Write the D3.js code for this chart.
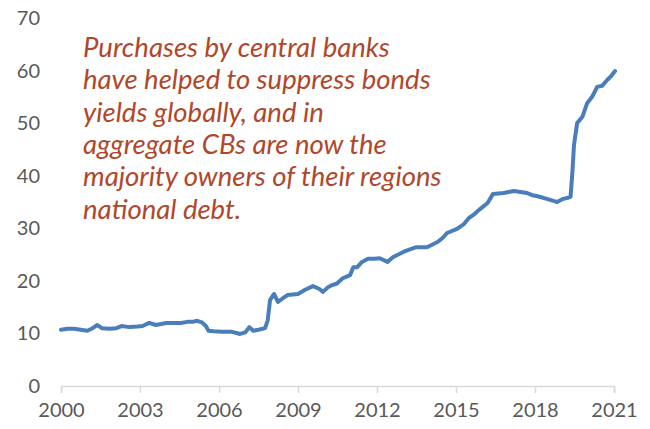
<!DOCTYPE html>
<html>
<head>
<meta charset="utf-8">
<script src="https://cdn.jsdelivr.net/npm/d3@7"></script>
<style>
  body { margin: 0; background: #fff; }
  svg { display: block; }
</style>
</head>
<body>
<svg id="chart" width="650" height="429"></svg>
<script>
// share of national debt held by central banks (%)
const dates = [
	2000.00, 2000.25, 2000.50, 2000.75, 2001.00, 2001.20, 2001.37, 2001.55, 2001.85, 2002.10,
	2002.30, 2002.60, 2002.90, 2003.10, 2003.35, 2003.60, 2003.80, 2004.00, 2004.30, 2004.55,
	2004.80, 2005.00, 2005.17, 2005.35, 2005.50, 2005.60, 2005.80, 2006.10, 2006.50, 2006.80,
	2007.00, 2007.15, 2007.30, 2007.50, 2007.75, 2007.85, 2007.94, 2008.09, 2008.24, 2008.40,
	2008.60, 2009.00, 2009.27, 2009.57, 2009.80, 2009.95, 2010.14, 2010.30, 2010.48, 2010.70,
	2010.98, 2011.10, 2011.25, 2011.43, 2011.66, 2011.90, 2012.10, 2012.40, 2012.60, 2013.00,
	2013.25, 2013.50, 2013.90, 2014.30, 2014.50, 2014.66, 2015.04, 2015.30, 2015.50, 2015.65,
	2015.90, 2016.20, 2016.40, 2016.80, 2017.00, 2017.20, 2017.45, 2017.70, 2017.90, 2018.10,
	2018.45, 2018.70, 2018.84, 2019.07, 2019.26, 2019.35, 2019.42, 2019.48, 2019.60, 2019.80,
	2019.98, 2020.17, 2020.36, 2020.55, 2020.74, 2020.90, 2021.04
];
const values = [
	10.7, 10.9, 10.9, 10.7, 10.5, 11.0, 11.6, 11.0, 10.9, 11.0,
	11.4, 11.2, 11.3, 11.4, 12.0, 11.6, 11.8, 12.0, 12.0, 12.0,
	12.2, 12.2, 12.4, 12.1, 11.4, 10.5, 10.4, 10.3, 10.3, 9.9,
	10.2, 11.2, 10.5, 10.7, 11.0, 12.5, 16.4, 17.5, 16.0, 16.6,
	17.3, 17.5, 18.3, 19.0, 18.5, 17.9, 18.8, 19.2, 19.5, 20.5,
	21.1, 22.6, 22.6, 23.6, 24.2, 24.2, 24.3, 23.6, 24.5, 25.5,
	26.0, 26.4, 26.4, 27.4, 28.2, 29.1, 29.9, 30.8, 32.0, 32.5,
	33.6, 34.8, 36.5, 36.7, 36.9, 37.1, 36.9, 36.7, 36.3, 36.1,
	35.6, 35.2, 35.0, 35.6, 35.8, 36.0, 40.7, 45.8, 50.0, 51.2,
	53.8, 55.0, 56.9, 57.1, 58.2, 59.0, 59.9
];
const xTicks = [2000, 2003, 2006, 2009, 2012, 2015, 2018, 2021];
const yTicks = [0, 10, 20, 30, 40, 50, 60, 70];
const note = [
	'Purchases by central banks',
	'have helped to suppress bonds',
	'yields globally, and in',
	'aggregate CBs are now the',
	'majority owners of their regions',
	'national debt.'
];

const svg = d3.select('#chart');
const font = 'Lato, "Open Sans", sans-serif';

const x = d3.scaleLinear().domain([2000, 2021]).range([61, 614]);
const y = d3.scaleLinear().domain([0, 70]).range([386, 18]);

// y labels, no axis line
svg.append('g').selectAll('text').data(yTicks).join('text')
	.attr('x', 40).attr('y', (d) => y(d) + 7)
	.attr('text-anchor', 'end')
	.style('font-family', font).style('font-size', '20px').style('fill', '#595959')
	.text((d) => d);

// x axis
let xAxis = svg.append('g').attr('transform', 'translate(0,' + y(0) + ')')
	.call(d3.axisBottom(x).tickValues(xTicks).tickFormat(d3.format('d')).tickSize(7).tickPadding(10));
xAxis.select('.domain').attr('stroke', '#d9d9d9').attr('stroke-width', 1.5);
xAxis.selectAll('.tick line').attr('stroke', '#d9d9d9').attr('stroke-width', 1.5);
xAxis.selectAll('.tick text')
	.style('font-family', font).style('font-size', '20px').style('fill', '#595959');

const line = d3.line().x((d, i) => x(dates[i])).y((d) => y(d));
svg.append('path').datum(values)
	.attr('d', line)
	.attr('fill', 'none').attr('stroke', '#4a7ebb').attr('stroke-width', 4)
	.attr('stroke-linejoin', 'round').attr('stroke-linecap', 'round');

svg.append('g').selectAll('text').data(note).join('text')
	.attr('x', 83).attr('y', (d, i) => 57 + i * 32.3)
	.style('font-family', font).style('font-size', '27.5px').style('font-style', 'italic')
	.style('fill', '#b0472b')
	.text((d) => d);
</script>
</body>
</html>
